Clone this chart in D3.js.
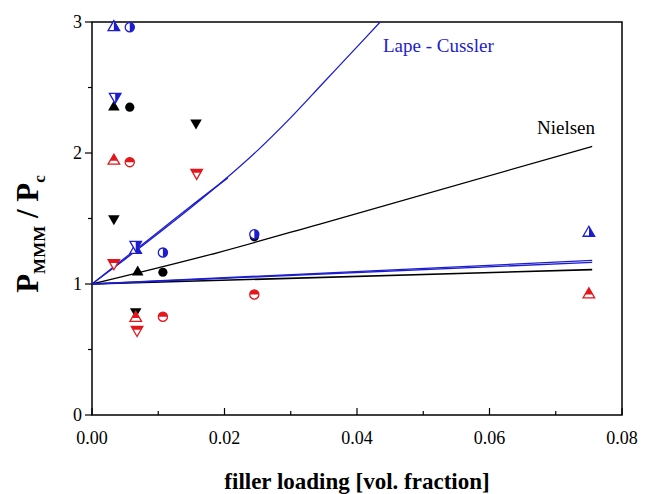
<!DOCTYPE html>
<html lang="en">
<head>
  <meta charset="UTF-8">
  <title>Permeability ratio vs filler loading</title>
  <style>
    body { margin: 0; background: #fff; }
    text { font-family: "Liberation Serif", "DejaVu Serif", serif; }
  </style>
</head>
<body>
  <div id="chart"></div>

  <script src="https://d3js.org/d3.v7.min.js"></script>
  <script>
    // measured points [vol. fraction, P_MMM / P_c]
    const blueUp = [[0.0033, 2.96], [0.0066, 1.26], [0.075, 1.39]];
    const blueCircle = [[0.0057, 2.96], [0.0107, 1.24], [0.0245, 1.38]];
    const blueDown = [[0.0035, 2.43], [0.0066, 1.30]];

    const blackUp = [[0.0033, 2.35], [0.0069, 1.09]];
    const blackCircle = [[0.0057, 2.35], [0.0107, 1.09], [0.0245, 1.36]];
    const blackDown = [[0.0157, 2.23], [0.0033, 1.50], [0.0066, 0.79]];

    const redUp = [[0.0033, 1.94], [0.075, 0.92], [0.0066, 0.74]];
    const redCircle = [[0.0057, 1.93], [0.0107, 0.75], [0.0245, 0.92]];
    const redDown = [[0.0158, 1.85], [0.0033, 1.16], [0.0068, 0.65]];

    // model curves
    const lapeLong = [[0, 1], [0.005, 1.19], [0.01, 1.385], [0.015, 1.585], [0.02, 1.795], [0.025, 2.02],
                      [0.03, 2.27], [0.035, 2.54], [0.04, 2.81], [0.0435, 3.0], [0.045, 3.08]];
    const lapeShort = [[0, 1], [0.005, 1.2], [0.01, 1.397], [0.015, 1.597], [0.0205, 1.81]];
    const blueLow1 = [[0, 1], [0.0755, 1.165]];
    const blueLow2 = [[0, 1], [0.0755, 1.18]];
    const nielsenHigh = [[0, 1], [0.0193, 1.244], [0.0344, 1.458], [0.0755, 2.05]];
    const nielsenLow = [[0, 1], [0.0755, 1.11]];

    const xTicks = [0, 0.02, 0.04, 0.06, 0.08];
    const yTicks = [0, 1, 2, 3];

    const width = 646, height = 494;
    const blue = "#1c1cd0", red = "#e3161c", black = "#000";

    const svg = d3.select("#chart").append("svg")
      .attr("width", width).attr("height", height);

    const x = d3.scaleLinear().domain([0, 0.08]).range([92, 622]);
    const y = d3.scaleLinear().domain([0, 3]).range([415, 22]);

    const defs = svg.append("defs");
    defs.append("clipPath").attr("id", "plot")
      .append("rect").attr("x", 92).attr("y", 22).attr("width", 530).attr("height", 393);
    defs.append("clipPath").attr("id", "half-top")
      .append("rect").attr("x", -10).attr("y", -10).attr("width", 20).attr("height", 10);
    defs.append("clipPath").attr("id", "half-right")
      .append("rect").attr("x", 0).attr("y", -10).attr("width", 10).attr("height", 20);

    // frame
    svg.append("rect")
      .attr("x", 92).attr("y", 22).attr("width", 530).attr("height", 393)
      .attr("fill", "none").attr("stroke", "#000").attr("stroke-width", 1.5);

    // x axis, ticks pointing inward
    const xAxis = svg.append("g").attr("transform", "translate(0,415)");
    xAxis.selectAll("line.minor").data(d3.range(0, 0.0801, 0.01)).enter().append("line")
      .attr("x1", d => x(d)).attr("x2", d => x(d))
      .attr("y1", 0).attr("y2", (d, i) => i % 2 ? -4 : -7)
      .attr("stroke", "#000").attr("stroke-width", 1.2);
    xAxis.selectAll("text").data(xTicks).enter().append("text")
      .attr("x", d => x(d)).attr("y", 29)
      .attr("text-anchor", "middle").attr("font-size", 18)
      .text(d => d3.format(".2f")(d));

    // y axis, ticks pointing outward
    const yAxis = svg.append("g").attr("transform", "translate(92,0)");
    yAxis.selectAll("line").data(d3.range(0, 3.01, 0.5)).enter().append("line")
      .attr("x1", 0).attr("x2", (d, i) => i % 2 ? -4 : -7)
      .attr("y1", d => y(d)).attr("y2", d => y(d))
      .attr("stroke", "#000").attr("stroke-width", 1.2);
    yAxis.selectAll("text").data(yTicks).enter().append("text")
      .attr("x", -10).attr("y", d => y(d) + 6)
      .attr("text-anchor", "end").attr("font-size", 18)
      .text(d => d);

    // axis titles
    svg.append("text")
      .attr("x", 357).attr("y", 489)
      .attr("text-anchor", "middle").attr("font-size", 23).attr("font-weight", "bold")
      .text("filler loading [vol. fraction]");

    const yTitle = svg.append("text")
      .attr("transform", "translate(38,234) rotate(-90)")
      .attr("text-anchor", "middle").attr("font-weight", "bold").attr("font-size", 31);
    yTitle.append("tspan").text("P");
    yTitle.append("tspan").attr("font-size", 17).attr("dy", 7).text("MMM");
    yTitle.append("tspan").attr("dy", -7).text(" / P");
    yTitle.append("tspan").attr("font-size", 17).attr("dy", 7).text("c");

    // model lines
    const line = d3.line().x(d => x(d[0])).y(d => y(d[1]));
    const curves = svg.append("g").attr("clip-path", "url(#plot)").attr("fill", "none");
    const drawLine = (data, color, w, curved) => curves.append("path")
      .attr("d", line.curve(curved ? d3.curveMonotoneX : d3.curveLinear)(data))
      .attr("stroke", color).attr("stroke-width", w);

    drawLine(lapeLong, blue, 1.3, true);
    drawLine(lapeShort, blue, 1.3, true);
    drawLine(nielsenHigh, black, 1.3, true);
    drawLine(nielsenLow, black, 1.6, false);
    drawLine(blueLow1, blue, 1.3, false);
    drawLine(blueLow2, blue, 1.3, false);

    // markers
    const symUp = d3.symbol(d3.symbolTriangle, 58)();
    const symCircle = d3.symbol(d3.symbolCircle, 66)();
    const marks = svg.append("g");

    function drawMarks(data, shape, color, half) {
      const g = marks.selectAll(null).data(data).enter().append("g")
        .attr("transform", d => `translate(${x(d[0])},${y(d[1])})`);
      const rot = shape === "down" ? "rotate(180)" : null;
      const sym = shape === "circle" ? symCircle : symUp;
      if (!half) {
        g.append("path").attr("d", sym).attr("transform", rot).attr("fill", color);
        return;
      }
      g.append("path").attr("d", sym).attr("transform", rot)
        .attr("fill", "#fff").attr("stroke", color).attr("stroke-width", 1.3);
      const inner = g.append("g").attr("clip-path", `url(#${half})`);
      inner.append("path").attr("d", sym).attr("transform", rot).attr("fill", color);
    }

    drawMarks(blackCircle, "circle", black);
    drawMarks(blackUp, "up", black);
    drawMarks(blackDown, "down", black);
    drawMarks(redUp, "up", red, "half-top");
    drawMarks(redCircle, "circle", red, "half-top");
    drawMarks(redDown, "down", red, "half-top");
    drawMarks(blueUp, "up", blue, "half-right");
    drawMarks(blueCircle, "circle", blue, "half-right");
    drawMarks(blueDown, "down", blue, "half-right");

    // curve labels
    svg.append("text").attr("x", 383).attr("y", 52)
      .attr("font-size", 19).attr("fill", blue).text("Lape - Cussler");
    svg.append("text").attr("x", 537).attr("y", 134)
      .attr("font-size", 19).attr("fill", black).text("Nielsen");
  </script>
</body>
</html>
